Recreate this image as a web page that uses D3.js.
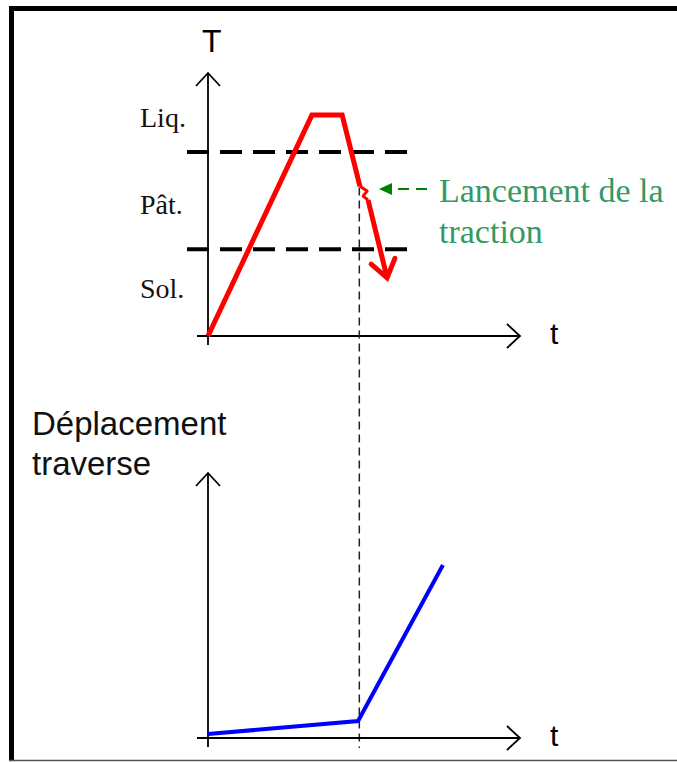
<!DOCTYPE html>
<html>
<head>
<meta charset="utf-8">
<script src="https://cdn.jsdelivr.net/npm/d3@7"></script>
<style>
  body { margin: 0; background: #fff; }
  svg { display: block; }
</style>
</head>
<body>
<div id="chart"></div>
<script>
// --- data (t and T in arbitrary units 0..100) ---
var phaseLabels = ["Sol.", "Pât.", "Liq."];
var phaseLabelT = [18, 50, 83];
var thresholdT = [33, 70];            // solidus / liquidus dashed lines
var tempT = [0, 33.3, 43, 48.7, 51.0, 49.7, 51.3, 57.4];   // red curve, time
var tempV = [0, 84, 84, 56.9, 55.1, 53.2, 51.7, 22.1];     // red curve, temperature
var launchT = 48.5;                   // "Lancement de la traction"
var launchV = 56.5;
var noteT = [70.2, 54.8];             // green arrow from -> to
var noteV = 55.9;
var noteLines = ["Lancement de la", "traction"];
var dispT = [0, 48.1, 75.3];          // blue curve, time
var dispV = [1.5, 6.4, 65.3];         // blue curve, displacement

var W = 677, H = 762;
var svg = d3.select("#chart").append("svg")
    .attr("width", W).attr("height", H);

// frame
svg.append("line").attr("x1", 9).attr("x2", W).attr("y1", 8.5).attr("y2", 8.5)
    .attr("stroke", "#000").attr("stroke-width", 5);
svg.append("line").attr("x1", 11.5).attr("x2", 11.5).attr("y1", 6).attr("y2", 761)
    .attr("stroke", "#000").attr("stroke-width", 5);
svg.append("line").attr("x1", 9).attr("x2", W).attr("y1", 760.5).attr("y2", 760.5)
    .attr("stroke", "#555").attr("stroke-width", 1.5);

// scales
var x = d3.scaleLinear().domain([0, 100]).range([208, 520]);
var yTop = d3.scaleLinear().domain([0, 100]).range([336, 73]);
var yBot = d3.scaleLinear().domain([0, 100]).range([738, 473]);

function arrowAxes(y) {
    var g = svg.append("g").attr("stroke", "#000").attr("stroke-width", 1.8).attr("fill", "none");
    var x0 = x(0), y0 = y(0), xEnd = x.range()[1], yEnd = y.range()[1];
    g.append("line").attr("x1", x0 - 11).attr("x2", xEnd).attr("y1", y0).attr("y2", y0);
    g.append("line").attr("x1", x0).attr("x2", x0).attr("y1", y0 + 9).attr("y2", yEnd);
    g.append("path").attr("d", "M" + (xEnd - 13) + "," + (y0 - 12) + "L" + xEnd + "," + y0 + "L" + (xEnd - 13) + "," + (y0 + 12));
    g.append("path").attr("d", "M" + (x0 - 12) + "," + (yEnd + 13) + "L" + x0 + "," + yEnd + "L" + (x0 + 12) + "," + (yEnd + 13));
    svg.append("text").attr("x", 550).attr("y", y0 + 8)
        .attr("font-family", "Liberation Sans, Arial, sans-serif").attr("font-size", 30)
        .text("t");
}

// ---- top chart ----
arrowAxes(yTop);
svg.append("text").attr("x", 202).attr("y", 52)
    .attr("font-family", "Liberation Sans, Arial, sans-serif").attr("font-size", 32)
    .text("T");

svg.selectAll(".thr").data(thresholdT).enter().append("line")
    .attr("class", "thr")
    .attr("x1", 187).attr("x2", 407)
    .attr("y1", function(d) { return yTop(d); })
    .attr("y2", function(d) { return yTop(d); })
    .attr("stroke", "#000").attr("stroke-width", 4)
    .attr("stroke-dasharray", "22,11");

svg.selectAll(".phase").data(phaseLabels).enter().append("text")
    .attr("class", "phase")
    .attr("x", 140)
    .attr("y", function(d, i) { return yTop(phaseLabelT[i]) + 9; })
    .attr("font-family", "Liberation Serif, Times New Roman, serif")
    .attr("font-size", 28)
    .attr("fill", "#111")
    .text(function(d) { return d; });

// vertical dashed line linking both charts
svg.append("line")
    .attr("x1", x(launchT)).attr("x2", x(launchT))
    .attr("y1", yTop(launchV)).attr("y2", yBot(0) + 10)
    .attr("stroke", "#222").attr("stroke-width", 1.5)
    .attr("stroke-dasharray", "8,5");

var tempPts = tempT.map(function(d, i) { return [x(d), yTop(tempV[i])]; });
// main curve up to the launch point, thin squiggle, then the cooling tail
svg.append("path")
    .attr("d", d3.line()(tempPts.slice(0, 4)))
    .attr("fill", "none").attr("stroke", "#ff0000").attr("stroke-width", 5)
    .attr("stroke-linejoin", "miter");
svg.append("path")
    .attr("d", d3.line()(tempPts.slice(3, 7)))
    .attr("fill", "none").attr("stroke", "#ff0000").attr("stroke-width", 3)
    .attr("stroke-linejoin", "round");
svg.append("path")
    .attr("d", d3.line()(tempPts.slice(6)))
    .attr("fill", "none").attr("stroke", "#ff0000").attr("stroke-width", 5);

// red arrow head from last segment direction
var pA = tempPts[tempPts.length - 2], pB = tempPts[tempPts.length - 1];
var ang = Math.atan2(pB[1] - pA[1], pB[0] - pA[0]);
function headPt(off) {
    return [pB[0] - 21 * Math.cos(ang + off), pB[1] - 21 * Math.sin(ang + off)];
}
svg.append("path")
    .attr("d", d3.line()([headPt(0.62), pB, headPt(-0.62)]))
    .attr("fill", "none").attr("stroke", "#ff0000").attr("stroke-width", 5)
    .attr("stroke-linecap", "round").attr("stroke-linejoin", "miter");

// green annotation
svg.append("line")
    .attr("x1", x(noteT[0])).attr("x2", x(noteT[1]) + 10)
    .attr("y1", yTop(noteV)).attr("y2", yTop(noteV))
    .attr("stroke", "#008000").attr("stroke-width", 2)
    .attr("stroke-dasharray", "11,7");
svg.append("path")
    .attr("d", "M" + x(noteT[1]) + "," + yTop(noteV) + "l13,-6l0,12z")
    .attr("fill", "#008000");
svg.selectAll(".note").data(noteLines).enter().append("text")
    .attr("class", "note")
    .attr("x", 439)
    .attr("y", function(d, i) { return 202 + i * 41; })
    .attr("font-family", "Liberation Serif, Times New Roman, serif")
    .attr("font-size", 34)
    .attr("fill", "#339966")
    .text(function(d) { return d; });

// ---- bottom chart ----
arrowAxes(yBot);
svg.selectAll(".ylab").data(["Déplacement", "traverse"]).enter().append("text")
    .attr("class", "ylab")
    .attr("x", 32)
    .attr("y", function(d, i) { return 435 + i * 40; })
    .attr("font-family", "Liberation Sans, Arial, sans-serif")
    .attr("font-size", 33)
    .attr("fill", "#111")
    .text(function(d) { return d; });

svg.append("path")
    .attr("d", d3.line()
        .x(function(d, i) { return x(d); })
        .y(function(d, i) { return yBot(dispV[i]); })(dispT))
    .attr("fill", "none").attr("stroke", "#0000ff").attr("stroke-width", 4);
</script>
</body>
</html>
